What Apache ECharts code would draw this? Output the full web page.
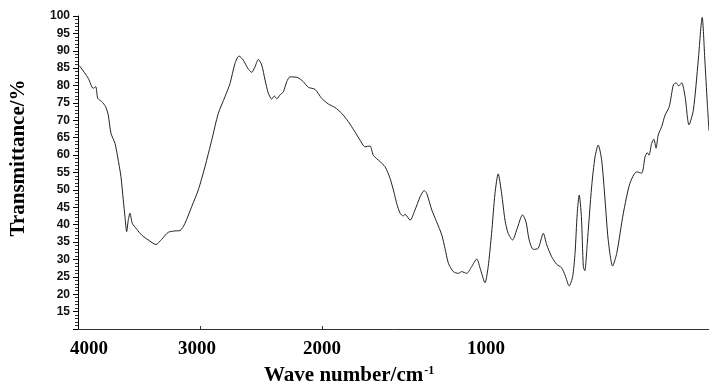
<!DOCTYPE html>
<html>
<head>
<meta charset="utf-8">
<script src="https://cdn.jsdelivr.net/npm/echarts@6.0.0/dist/echarts.min.js"></script>
<style>
  html, body { margin: 0; padding: 0; background: #fff; }
  #chart { width: 709px; height: 386px; }
</style>
</head>
<body>
<div id="chart"></div>
<script>
  // IR spectrum (wave number in cm-1, transmittance in %)
  var wavenumber = [
    4000, 3984, 3916, 3875, 3855, 3838, 3806, 3773, 3752, 3730, 3697, 3675, 3648, 3629, 3615, 3601,
    3588, 3574, 3555, 3519, 3478, 3424, 3361, 3314, 3260, 3205, 3164, 3123, 3068, 3014, 2959, 2904,
    2850, 2795, 2754, 2713, 2680, 2645, 2609, 2576, 2549, 2522, 2494, 2467, 2440, 2412, 2391, 2371,
    2344, 2317, 2289, 2262, 2199, 2153, 2112, 2057, 2002, 1974, 1947, 1919, 1892, 1865, 1844, 1824,
    1803, 1790, 1762, 1742, 1721, 1704, 1694, 1680, 1667, 1660, 1639, 1619, 1598, 1581, 1571, 1550,
    1530, 1509, 1496, 1482, 1462, 1441, 1428, 1407, 1387, 1366, 1350, 1332, 1319, 1305, 1291, 1278,
    1264, 1250, 1237, 1219, 1202, 1178, 1164, 1151, 1134, 1114, 1093, 1079, 1059, 1038, 1018, 1004,
    987, 973, 963, 954, 946, 937, 929, 923, 913, 895, 881, 868, 854, 840, 827, 809,
    792, 765, 738, 710, 690, 676, 667, 660, 649, 640, 631, 622, 608, 594, 577, 560,
    549, 538, 526, 512, 496, 478, 458, 442, 431, 421, 414
  ];
  var transmittance = [
    86.0, 85.5, 82.1, 79.2, 79.7, 76.3, 75.4, 73.9, 71.5, 66.3, 63.4, 59.5, 53.8, 47.1, 42.3, 38.0,
    41.3, 43.3, 40.4, 38.7, 37.0, 35.6, 34.3, 35.8, 37.8, 38.2, 38.3, 40.4, 45.2, 50.0, 56.7, 64.3,
    72.0, 76.8, 80.6, 86.4, 88.5, 87.3, 85.0, 83.8, 85.4, 87.5, 85.9, 81.6, 77.8, 76.1, 77.0, 76.2,
    77.3, 78.2, 81.1, 82.5, 82.3, 81.1, 79.5, 78.9, 76.3, 74.7, 73.7, 72.0, 69.6, 66.7, 64.3, 62.4,
    62.6, 60.0, 58.1, 56.7, 53.3, 49.0, 46.1, 43.3, 42.5, 43.0, 41.3, 44.2, 48.0, 49.8, 49.0, 44.2,
    40.8, 37.0, 33.2, 28.9, 26.5, 26.0, 26.5, 26.0, 27.9, 30.1, 27.0, 23.3, 27.9, 37.5, 49.0, 54.6,
    49.0, 41.3, 37.5, 35.6, 38.5, 42.8, 40.8, 35.6, 32.9, 33.2, 37.5, 34.2, 30.8, 28.6, 27.6, 25.5,
    22.4, 25.0, 31.8, 43.3, 48.5, 42.3, 27.9, 26.8, 34.6, 50.9, 59.5, 62.9, 58.6, 47.1, 35.6, 28.1,
    31.8, 43.3, 51.9, 55.2, 54.8, 59.5, 60.7, 60.0, 63.4, 64.6, 62.0, 65.8, 68.2, 71.5, 73.9, 80.2,
    80.8, 79.9, 80.8, 76.8, 68.7, 73.0, 87.3, 99.6, 87.3, 74.9, 67.0
  ];

  // x tick labels and where they sit on the (display) axis
  var xTickLabels = ['4000', '3000', '2000', '1000'];
  var xLabelAt = [3910, 3025, 2000, 656];
  var xTickAt = [3000, 2000];

  // spectrum scale is doubled below 2000 cm-1
  function toAxis(wn) {
    return wn >= 2000 ? wn : 2000 - 2 * (2000 - wn);
  }

  var points = [];
  for (var i = 0; i < wavenumber.length; i++) {
    points.push([toAxis(wavenumber[i]), transmittance[i]]);
  }

  var mychar = echarts.init(document.getElementById('chart'));
  var option = {
    animation: false,
    title: {
      text: '{a|Wave number/cm}{s|-1}',
      left: 264,
      top: 365,
      padding: 0,
      textStyle: {
        rich: {
          a: { fontFamily: 'Liberation Serif', fontWeight: 'bold', fontSize: 21, color: '#000' },
          s: { fontFamily: 'Liberation Serif', fontWeight: 'bold', fontSize: 12, color: '#000', verticalAlign: 'top', padding: [0, 0, 10, 1] }
        }
      }
    },
    graphic: [{
      type: 'text',
      x: 19,
      y: 158,
      rotation: Math.PI / 2,
      style: {
        text: 'Transmittance/%',
        fontFamily: 'Liberation Serif',
        fontWeight: 'bold',
        fontSize: 21,
        fill: '#000',
        align: 'center',
        verticalAlign: 'middle'
      }
    }],
    grid: { left: 78, right: 0, top: 16, bottom: 57 },
    xAxis: {
      type: 'value',
      inverse: true,
      min: toAxis(414),
      max: 4000,
      splitLine: { show: false },
      axisLine: { onZero: false, lineStyle: { color: '#333', width: 1 } },
      axisTick: { customValues: xTickAt, inside: true, length: 3, lineStyle: { color: '#333' } },
      axisLabel: {
        customValues: xLabelAt,
        margin: 11,
        formatter: function (v) { return xTickLabels[xLabelAt.indexOf(v)]; },
        fontFamily: 'Liberation Serif',
        fontWeight: 'bold',
        fontSize: 19,
        color: '#000'
      }
    },
    yAxis: {
      type: 'value',
      min: 10,
      max: 100,
      interval: 5,
      splitLine: { show: false },
      axisLine: { show: true, onZero: false, lineStyle: { color: '#000', width: 1 } },
      axisTick: { show: true, length: 5, lineStyle: { color: '#000' } },
      minorTick: { show: true, splitNumber: 5, length: 3, lineStyle: { color: '#333' } },
      axisLabel: {
        showMinLabel: false,
        margin: 8,
        fontFamily: 'Liberation Sans',
        fontWeight: 'bold',
        fontSize: 12,
        color: '#111'
      }
    },
    series: [{
      type: 'line',
      data: points,
      showSymbol: false,
      smooth: 0.25,
      lineStyle: { color: '#222', width: 1 }
    }]
  };
  mychar.setOption(option);
</script>
</body>
</html>
